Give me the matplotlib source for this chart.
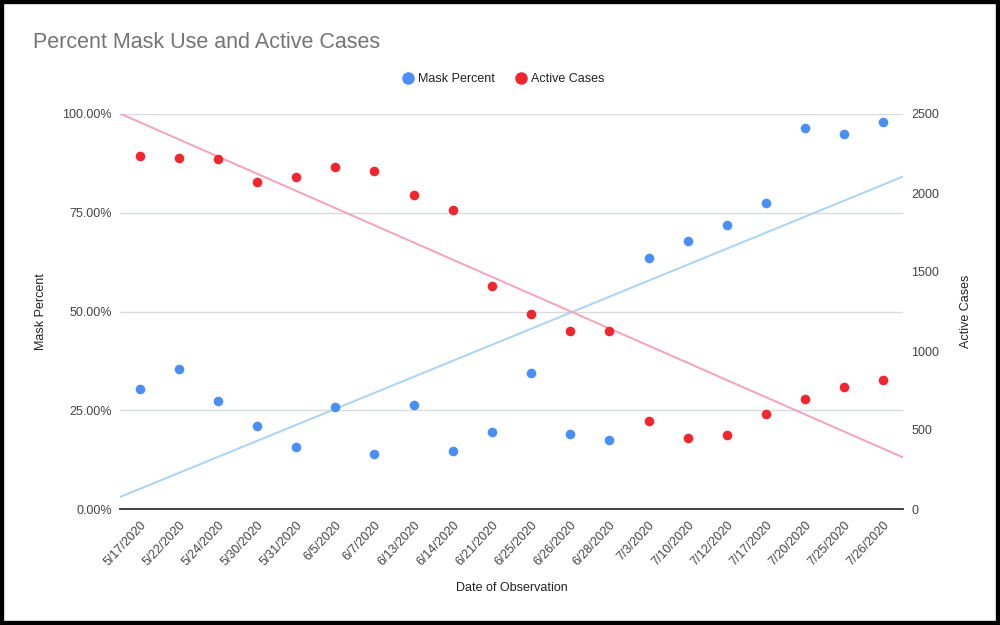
import numpy as np
import matplotlib
matplotlib.use("Agg")
import matplotlib.pyplot as plt
from matplotlib.lines import Line2D
from matplotlib.patches import Rectangle
from matplotlib.ticker import FuncFormatter

plt.rcParams['font.family'] = ['Liberation Sans', 'DejaVu Sans']

dates = ["5/17/2020", "5/22/2020", "5/24/2020", "5/30/2020", "5/31/2020",
         "6/5/2020", "6/7/2020", "6/13/2020", "6/14/2020", "6/21/2020",
         "6/25/2020", "6/26/2020", "6/28/2020", "7/3/2020", "7/10/2020",
         "7/12/2020", "7/17/2020", "7/20/2020", "7/25/2020", "7/26/2020"]
mask_percent = [30.5, 35.4, 27.4, 21.1, 15.8, 25.9, 13.8, 26.3, 14.7, 19.6,
                34.5, 19.1, 17.5, 63.5, 67.8, 72.0, 77.5, 96.5, 95.0, 98.1]
active_cases = [2236, 2223, 2217, 2070, 2099, 2167, 2139, 1989, 1892, 1411,
                1234, 1127, 1127, 559, 447, 468, 603, 694, 774, 819]

BLUE = "#4a8ff5"
RED = "#f2262e"
BLUE_TREND = "#a9d4f5"
RED_TREND = "#f4a3b8"
TEXT = "#444444"

fig = plt.figure(figsize=(10, 6.25), dpi=100)
ax = fig.add_axes([0.12, 0.1856, 0.783, 0.632])
ax2 = ax.twinx()

x = np.arange(len(dates))
xs = np.array([-0.5, len(dates) - 0.5])

# linear trendlines, same as the sheet's
m1, b1 = np.polyfit(x, mask_percent, 1)
m2, b2 = np.polyfit(x, active_cases, 1)

ax.plot(xs, m1 * xs + b1, color=BLUE_TREND, lw=1.4, zorder=2)
ax.scatter(x, mask_percent, s=48, color=BLUE, zorder=3, linewidths=0)
ax2.plot(xs, m2 * xs + b2, color=RED_TREND, lw=1.4, zorder=2)
ax2.scatter(x, active_cases, s=48, color=RED, zorder=3, linewidths=0)

ax.set_xlim(-0.5, len(dates) - 0.5)
ax.set_ylim(0, 100)
ax2.set_ylim(0, 2500)
ax.set_yticks([0, 25, 50, 75, 100])
ax.yaxis.set_major_formatter(FuncFormatter(lambda v, _: f"{v:.2f}%"))
ax2.set_yticks([0, 500, 1000, 1500, 2000, 2500])

ax.set_xticks(x)
ax.set_xticklabels(dates, rotation=47, ha='right', va='top', rotation_mode='anchor')

for a in (ax, ax2):
    for s in a.spines.values():
        s.set_visible(False)
    a.tick_params(length=0, labelsize=9, colors=TEXT)
ax.tick_params(axis='y', pad=6)
ax.tick_params(axis='x', pad=7)
ax2.tick_params(axis='y', pad=6)
ax.spines['bottom'].set_visible(True)
ax.spines['bottom'].set_color("#333333")
ax.spines['bottom'].set_linewidth(1.3)
ax.spines['bottom'].set_zorder(5)

ax.grid(axis='y', color="#d9dcdc", lw=1)
ax.set_axisbelow(True)

ax.set_ylabel("Mask Percent", fontsize=9, color="#222222")
ax.yaxis.set_label_coords(-0.0932, 0.5)
ax2.set_ylabel("Active Cases", fontsize=9, color="#222222")
ax2.yaxis.set_label_coords(1.0726, 0.5)
ax.set_xlabel("Date of Observation", fontsize=9, color="#222222")
ax.xaxis.set_label_coords(0.5, -0.186)

fig.text(0.033, 1 - 42 / 625, "Percent Mask Use and Active Cases",
         fontsize=15.5, color="#757575", ha='left', va='center')

handles = [Line2D([], [], ls='none', marker='o', ms=8, mfc=BLUE, mec=BLUE),
           Line2D([], [], ls='none', marker='o', ms=8, mfc=RED, mec=RED)]
fig.legend(handles, ["Mask Percent", "Active Cases"], loc='center',
           bbox_to_anchor=(0.502, 1 - 79 / 625), ncol=2, frameon=False,
           fontsize=9, handletextpad=0.2, columnspacing=1.5,
           handlelength=1.2, labelcolor="#222222")

fig.patches.append(Rectangle((0, 0), 1, 1, transform=fig.transFigure,
                             fill=False, ec='black', lw=6))

fig.savefig("out.png", dpi=100, facecolor='white')
